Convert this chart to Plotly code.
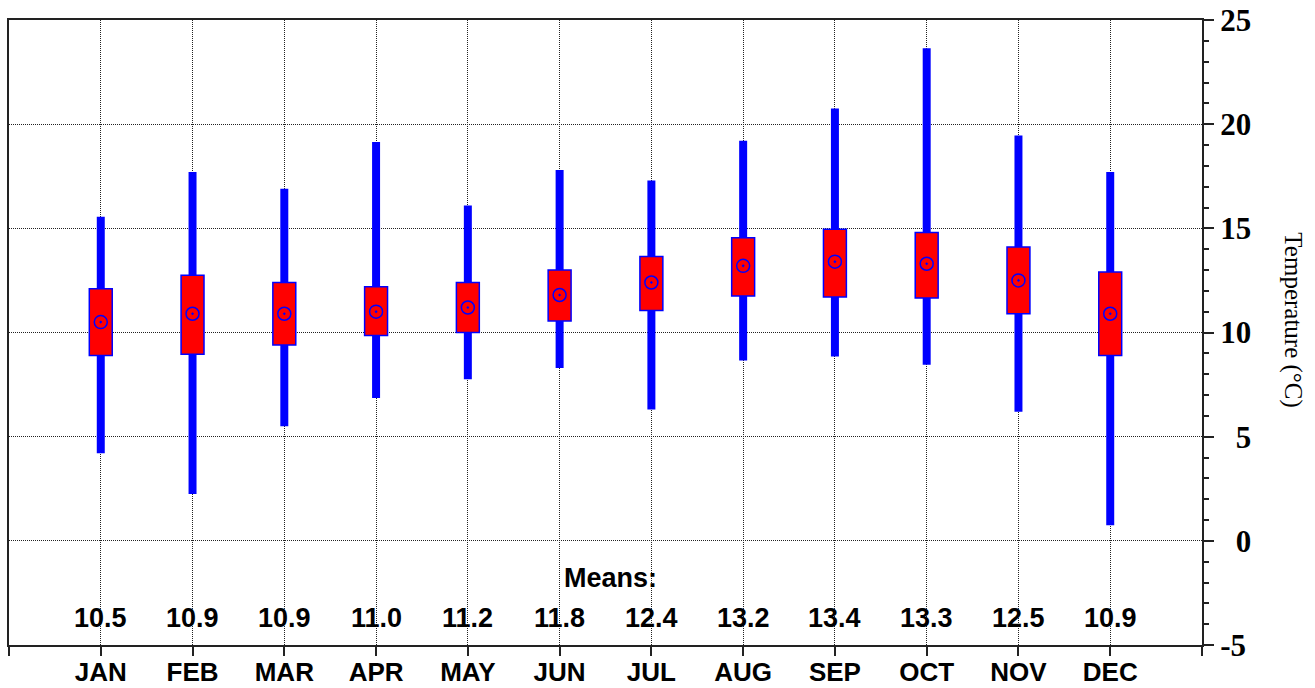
import plotly.graph_objects as go

months = ["JAN", "FEB", "MAR", "APR", "MAY", "JUN", "JUL", "AUG", "SEP", "OCT", "NOV", "DEC"]
whisker_low = [4.2, 2.25, 5.5, 6.85, 7.75, 8.3, 6.3, 8.65, 8.85, 8.45, 6.2, 0.75]
whisker_high = [15.55, 17.7, 16.9, 19.15, 16.1, 17.8, 17.3, 19.2, 20.75, 23.65, 19.45, 17.7]
box_low = [8.9, 8.95, 9.4, 9.85, 10.0, 10.55, 11.05, 11.75, 11.7, 11.65, 10.9, 8.9]
box_high = [12.1, 12.75, 12.4, 12.2, 12.4, 13.0, 13.65, 14.55, 14.95, 14.8, 14.1, 12.9]
means = [10.5, 10.9, 10.9, 11.0, 11.2, 11.8, 12.4, 13.2, 13.4, 13.3, 12.5, 10.9]
y_ticks = [-5, 0, 5, 10, 15, 20, 25]
y_tick_text = ["-5", "\u20070", "\u20075", "10", "15", "20", "25"]

xpos = list(range(1, len(months) + 1))

fig = go.Figure()
fig.add_trace(go.Bar(
    x=xpos, y=[h - l for h, l in zip(whisker_high, whisker_low)], base=whisker_low,
    width=0.087, marker=dict(color="#0000FF", line=dict(width=0)), showlegend=False,
))
fig.add_trace(go.Bar(
    x=xpos, y=[h - l for h, l in zip(box_high, box_low)], base=box_low,
    width=0.25, marker=dict(color="#FF0000", line=dict(color="#0000FF", width=1.5)), showlegend=False,
))
fig.add_trace(go.Scatter(
    x=xpos, y=means, mode="markers",
    marker=dict(symbol="circle-open-dot", size=13, color="#0000FF", line=dict(width=1.5, color="#0000FF")),
    showlegend=False,
))

annotations = []
for xp, m in zip(xpos, means):
    annotations.append(dict(x=xp, y=-3.7, xref="x", yref="y", text=f"{m:.1f}", showarrow=False,
                            font=dict(family="Liberation Sans", size=27, color="black", weight="bold"),
                            xanchor="center", yanchor="middle"))
annotations.append(dict(x=6.55, y=-1.8, xref="x", yref="y", text="Means:", showarrow=False,
                        font=dict(family="Liberation Sans", size=27, color="black", weight="bold"),
                        xanchor="center", yanchor="middle"))
annotations.append(dict(x=1.076, y=0.52, xref="paper", yref="paper", text="Temperature (°C)",
                        showarrow=False, textangle=90,
                        font=dict(family="Liberation Serif", size=25, color="black"),
                        xanchor="center", yanchor="middle"))

fig.update_layout(
    width=1315, height=688,
    margin=dict(l=9, r=113, t=20, b=43, autoexpand=False),
    paper_bgcolor="white", plot_bgcolor="white",
    barmode="overlay",
    annotations=annotations,
    xaxis=dict(
        range=[0, 13], tickvals=[0] + xpos + [13], ticktext=[""] + months + [""],
        ticks="outside", ticklen=9, tickwidth=1.5, tickcolor="#222",
        showline=True, linecolor="#222", linewidth=2, mirror=True,
        showgrid=True, gridcolor="#222", gridwidth=1, griddash="1px,1px",
        zeroline=False, automargin=False, ticklabelstandoff=-6,
        tickfont=dict(family="Liberation Sans", size=26, color="black", weight="bold"),
    ),
    yaxis=dict(
        side="right", range=[-5, 25], tickvals=y_ticks, ticktext=y_tick_text,
        ticks="outside", ticklen=10, tickwidth=1.5, tickcolor="#222",
        minor=dict(dtick=1, ticks="outside", ticklen=5, tickwidth=1.5, tickcolor="#222", showgrid=False),
        showline=True, linecolor="#222", linewidth=2, mirror=True,
        showgrid=True, gridcolor="#222", gridwidth=1, griddash="1px,1px",
        zeroline=False, automargin=False,
        tickfont=dict(family="Liberation Serif", size=31, color="black", weight="bold"),
    ),
)

fig.write_html("out.html", config={"displayModeBar": False},
               post_script="document.body.style.margin='0';document.body.style.overflow='hidden';")
